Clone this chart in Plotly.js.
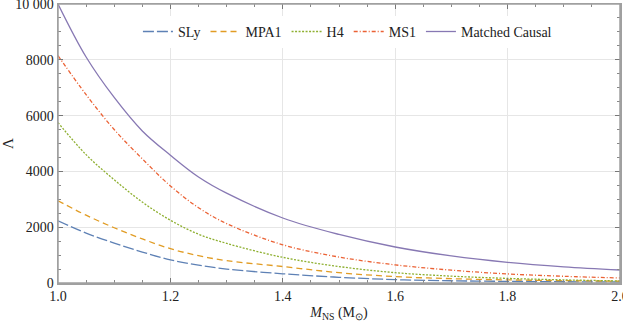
<!DOCTYPE html>
<html>
<head>
<meta charset="utf-8">
<script src="https://cdn.plot.ly/plotly-3.0.1.min.js"></script>
<style>
  html, body { margin: 0; padding: 0; background: #fff; }
  #chart { width: 623px; height: 322px; }
</style>
</head>
<body>
<div id="chart"></div>
<script>
// neutron star mass (solar masses)
const mass = [1.0, 1.05, 1.1, 1.15, 1.2, 1.25, 1.3, 1.4, 1.5, 1.6, 1.7, 1.8, 1.9, 2.0];

// tidal deformability
const sly     = [2230, 1790, 1430, 1110, 830, 640, 500, 330, 205, 120, 80, 58, 45, 36];
const mpa1    = [2950, 2430, 1980, 1580, 1230, 980, 800, 590, 370, 230, 155, 112, 85, 65];
const h4      = [5750, 4600, 3700, 2900, 2250, 1750, 1420, 920, 590, 370, 245, 165, 112, 75];
const ms1     = [8150, 6750, 5500, 4450, 3480, 2700, 2130, 1370, 930, 650, 460, 325, 240, 180];
const causal  = [10000, 8100, 6650, 5450, 4580, 3800, 3220, 2330, 1740, 1290, 970, 740, 580, 466];

const seriesNames = ['SLy', 'MPA1', 'H4', 'MS1', 'Matched Causal'];
const seriesVals = [sly, mpa1, h4, ms1, causal];
const colors = ['#5E81B5', '#E19C24', '#8FB032', '#EB6235', '#8778B3'];
const dashes = ['11px,3px', '6px,4px', '2px,1.5px', '4px,2px,1px,2px', 'solid'];

const xTicks = [1.0, 1.2, 1.4, 1.6, 1.8, 2.0];
const xTickText = ['1.0', '1.2', '1.4', '1.6', '1.8', '2.0'];
const yTicks = [0, 2000, 4000, 6000, 8000, 10000];
const yTickText = ['0', '2000', '4000', '6000', '8000', '10 000'];

const serif = '"Liberation Serif", "Times New Roman", serif';

const traces = seriesNames.map((name, i) => ({
    x: mass,
    y: seriesVals[i],
    type: 'scatter',
    mode: 'lines',
    name: name,
    line: { color: colors[i], width: 1.3, dash: dashes[i], shape: 'spline', smoothing: 1 }
}));

const frameColor = '#a0a0a0';
const layout = {
    width: 623,
    height: 322,
    margin: { l: 58, r: 3, t: 4, b: 39 },
    paper_bgcolor: '#fff',
    plot_bgcolor: '#fff',
    font: { family: serif, size: 14, color: '#222' },
    showlegend: true,
    legend: {
        orientation: 'h',
        x: 0.515, xanchor: 'center',
        y: 0.9, yanchor: 'middle',
        bgcolor: '#fff',
        font: { family: serif, size: 14 },
        itemwidth: 30
    },
    xaxis: {
        range: [1.0, 2.0],
        tickvals: xTicks,
        ticktext: xTickText,
        tickfont: { family: serif, size: 14, color: '#222' },
        ticklabeloverflow: 'allow',
        ticks: 'inside', ticklen: 5, tickcolor: '#777',
        minor: { dtick: 0.05, ticks: 'inside', ticklen: 3, tickcolor: '#888', showgrid: false },
        showline: true, linecolor: frameColor, linewidth: 1.5, mirror: 'allticks',
        showgrid: true, gridcolor: '#e6e6e6', gridwidth: 1,
        zeroline: false,
        title: { text: '<i>M</i><sub>NS</sub> (M<sub>⊙</sub>)', font: { family: serif, size: 14 }, standoff: 10 }
    },
    yaxis: {
        range: [0, 10000],
        tickvals: yTicks,
        ticktext: yTickText,
        tickfont: { family: serif, size: 14, color: '#222' },
        ticklabeloverflow: 'allow',
        ticks: 'inside', ticklen: 5, tickcolor: '#777',
        minor: { dtick: 500, ticks: 'inside', ticklen: 3, tickcolor: '#888', showgrid: false },
        showline: true, linecolor: frameColor, linewidth: 1.5, mirror: 'allticks',
        showgrid: true, gridcolor: '#e6e6e6', gridwidth: 1,
        zeroline: false,
        title: { text: 'Λ', font: { family: serif, size: 15 }, standoff: 8 }
    },
    shapes: [{
        type: 'rect', xref: 'paper', yref: 'paper', x0: 0, x1: 1, y0: 0, y1: 1,
        line: { color: frameColor, width: 1.5 }, layer: 'above'
    }]
};

Plotly.newPlot('chart', traces, layout, { displayModeBar: false, staticPlot: true });
</script>
</body>
</html>
